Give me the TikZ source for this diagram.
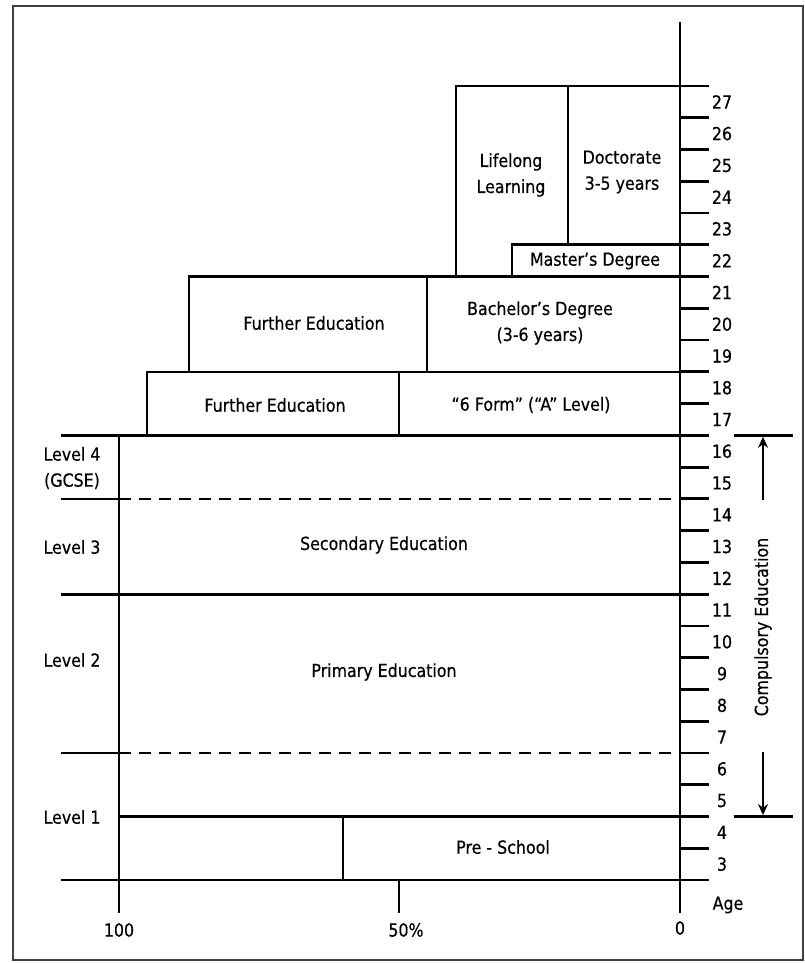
\documentclass[tikz,border=0pt]{standalone}
\usepackage{fontspec}
\setmainfont{DejaVu Sans}[FakeStretch=0.88,FakeBold=0.5]
\usetikzlibrary{arrows.meta}
\tikzset{
  ln/.style={line width=2.8pt, line cap=rect},
  dl/.style={line width=2.8pt, dash pattern=on 12pt off 8pt},
  txt/.style={inner sep=0pt, align=center, font=\fontsize{18}{26}\selectfont},
  lab/.style={inner sep=0pt, font=\fontsize{18}{20}\selectfont},
  arr/.style={line width=2.8pt, -{Stealth[length=11pt,width=10pt]}}
}
\begin{document}
\begin{tikzpicture}[x=1pt,y=-1pt]
\useasboundingbox (0,0) rectangle (805,963);
% outer frame
\draw[line width=2.4pt, draw=black!75] (13,6) rectangle (803,960);
% age axis
\draw[ln] (680,23) -- (680,912);
\foreach \b in {4,...,27}
  \draw[ln] (680,{880-(\b-3)*31.76}) -- (708,{880-(\b-3)*31.76});
\foreach \a in {3,...,27}
  \node[lab] (age\a) at (722,{880-(\a-3)*31.76-15.88}) {\a};
% upper blocks
\draw[ln] (456,86) -- (708,86);
\draw[ln] (456,86) -- (456,276.6);
\draw[ln] (568,86) -- (568,244.8);
\draw[ln] (512,244.8) -- (708,244.8);
\draw[ln] (512,244.8) -- (512,276.6);
\draw[ln] (189,276.6) -- (708,276.6);
\draw[ln] (189,276.6) -- (189,371.9);
\draw[ln] (427,276.6) -- (427,371.9);
\draw[ln] (147,371.9) -- (708,371.9);
\draw[ln] (147,371.9) -- (147,435.4);
\draw[ln] (399,371.9) -- (399,435.4);
% compulsory region
\draw[ln] (62,435.4) -- (708,435.4);
\draw[ln] (735,435.4) -- (792,435.4);
\draw[ln] (119,435.4) -- (119,912);
\draw[ln] (62,498.9) -- (119,498.9);
\draw[dl] (119,498.9) -- (680,498.9);
\draw[ln] (62,594.2) -- (708,594.2);
\draw[ln] (62,753) -- (119,753);
\draw[dl] (119,753) -- (680,753);
\draw[ln] (119,816.5) -- (708,816.5);
\draw[ln] (735,816.5) -- (792,816.5);
\draw[ln] (343,816.5) -- (343,880);
\draw[ln] (62,880) -- (708,880);
\draw[ln] (399,880) -- (399,912);
% compulsory arrows
\draw[arr] (763,500) -- (763,436.8);
\draw[arr] (763,752) -- (763,815.1);
\node[txt, rotate=90] (comp) at (763,627) {Compulsory Education};
% box texts
\node[txt] (lifelong) at (511,175) {Lifelong\\Learning};
\node[txt] (doct) at (622,172) {Doctorate\\3-5 years};
\node[txt] (master) at (595,261) {Master’s Degree};
\node[txt] (fe1) at (314,323) {Further Education};
\node[txt] (bach) at (540,323) {Bachelor’s Degree\\(3-6 years)};
\node[txt] (fe2) at (275,405) {Further Education};
\node[txt] (sixth) at (531,405) {“6 Form” (“A” Level)};
\node[txt] (lv4) at (72,468) {Level 4\\(GCSE)};
\node[txt] (lv3) at (72,547) {Level 3};
\node[txt] (sec) at (384,545) {Secondary Education};
\node[txt] (lv2) at (72,660) {Level 2};
\node[txt] (prim) at (384,672) {Primary Education};
\node[txt] (lv1) at (72,817) {Level 1};
\node[txt] (pre) at (503,847) {Pre - School};
% x axis labels
\node[lab] (x100) at (119,930) {100};
\node[lab] (x50) at (406,930) {50\%};
\node[lab] (x0) at (680,928) {0};
\node[lab] (agelab) at (728,905) {Age};
\end{tikzpicture}
\end{document}
